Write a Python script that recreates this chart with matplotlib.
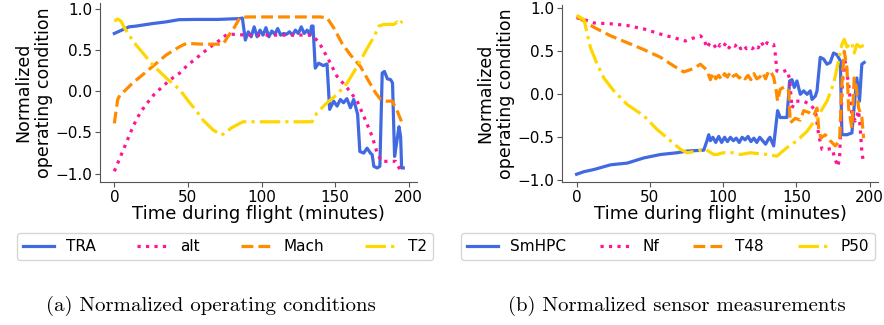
import matplotlib
matplotlib.use('Agg')
import matplotlib.pyplot as plt

# (a) operating conditions
tra_t = [0, 5, 10, 15, 26, 35, 44, 55, 70, 85, 87, 89, 91, 93, 95, 97, 99, 101, 103, 105,
         107, 109, 111, 113, 115, 117, 119, 121, 123, 125, 127, 129, 131, 133, 134, 135,
         136.5, 138.8, 142, 144.5, 146.3, 149, 151.3, 153.6, 155.7, 158, 160.4, 162.6,
         165.3, 166.8, 169.4, 171.7, 174, 175.2, 176.3, 178.6, 180.4, 182, 183.5, 185.5,
         187.7, 189, 190.4, 192, 193.4, 194.5, 195.2, 196.3]
tra = [0.70, 0.74, 0.78, 0.79, 0.82, 0.84, 0.867, 0.87, 0.87, 0.88, 0.887, 0.62, 0.72, 0.66,
       0.78, 0.66, 0.74, 0.68, 0.77, 0.66, 0.73, 0.69, 0.76, 0.68, 0.70, 0.69, 0.72, 0.68,
       0.74, 0.70, 0.78, 0.70, 0.74, 0.68, 0.79, 0.79, 0.28, 0.34, 0.31, 0.33, -0.22, -0.12,
       -0.18, -0.10, -0.14, -0.09, -0.20, -0.10, -0.28, -0.73, -0.75, -0.69, -0.75, -0.77,
       -0.91, -0.93, -0.91, 0.22, 0.24, 0.15, 0.14, 0.10, -0.79, -0.60, -0.43, -0.55, -0.93,
       -0.93]

alt_t = [0, 4, 8, 11.5, 14.8, 18, 21.6, 27, 33, 38, 44.4, 50, 55.8, 59, 62.6, 67, 71.7, 76.2,
         80, 90, 100, 110, 120, 130, 134, 138.8, 145.6, 151.3, 158.2, 165, 170.6, 175.2,
         178.6, 181.6, 186, 191.1, 195]
alt = [-0.97, -0.80, -0.63, -0.48, -0.35, -0.25, -0.16, -0.04, 0.06, 0.14, 0.22, 0.32, 0.40,
       0.45, 0.50, 0.56, 0.62, 0.685, 0.69, 0.68, 0.68, 0.68, 0.68, 0.68, 0.68, 0.60, 0.38,
       0.18, 0.04, -0.12, -0.35, -0.55, -0.75, -0.85, -0.85, -0.85, -0.98]

mach_t = [0, 2.3, 4, 6.8, 12.5, 19.3, 26, 35.3, 44.4, 49, 60, 70, 74, 77, 80.8, 85.3, 90, 100,
          110, 120, 130, 140, 144.5, 149, 154.7, 160.4, 167.2, 172.9, 177.5, 180.9, 185,
          188.8, 192.2, 195.6]
mach = [-0.39, -0.10, -0.04, 0.0, 0.10, 0.20, 0.30, 0.44, 0.54, 0.58, 0.57, 0.57, 0.57, 0.66,
        0.75, 0.89, 0.90, 0.90, 0.90, 0.90, 0.90, 0.90, 0.89, 0.77, 0.58, 0.44, 0.30, 0.12,
        -0.02, -0.10, -0.12, -0.12, -0.24, -0.39]

t2_t = [0, 2.3, 4.5, 6.8, 10, 14.8, 20, 26, 35.3, 44.4, 51.2, 55, 60.3, 67.1, 72.8, 76.2, 79,
        83, 87.6, 100, 110, 120, 130, 134.3, 137.7, 144.5, 151.3, 158.2, 165, 171.8, 176.4,
        179.8, 183.2, 187, 190, 192.2, 193.5, 195.6]
t2 = [0.85, 0.875, 0.85, 0.77, 0.68, 0.56, 0.45, 0.32, 0.16, 0.02, -0.14, -0.22, -0.35, -0.47,
      -0.53, -0.50, -0.45, -0.41, -0.37, -0.37, -0.37, -0.37, -0.37, -0.37, -0.26, -0.14,
      -0.04, 0.10, 0.30, 0.52, 0.66, 0.79, 0.81, 0.81, 0.81, 0.84, 0.81, 0.85]

# (b) sensor measurements
smhpc_t = [0, 5, 11.8, 17, 23.2, 34.6, 45.9, 57.3, 68.6, 75.5, 86.8, 89, 90.2, 91.3, 93, 95,
           97, 99, 101, 103, 105, 107, 109, 111, 113, 115, 117, 119, 121, 123, 125, 127, 129,
           131, 132, 134.5, 137.2, 139, 143.6, 145.4, 147, 148.6, 150.4, 152.7, 155, 157.3,
           159.5, 160.7, 163, 164.1, 166.3, 168.6, 170.9, 173.1, 175.4, 177.7, 180, 181.1,
           184.5, 187.9, 190.2, 191.3, 193.1, 194.7, 196.3]
smhpc = [-0.93, -0.90, -0.875, -0.85, -0.82, -0.80, -0.74, -0.70, -0.68, -0.66, -0.65, -0.54,
         -0.47, -0.54, -0.50, -0.56, -0.49, -0.56, -0.50, -0.55, -0.50, -0.54, -0.51, -0.56,
         -0.50, -0.53, -0.49, -0.55, -0.51, -0.56, -0.50, -0.54, -0.58, -0.52, -0.50, -0.60,
         -0.19, -0.27, -0.27, 0.155, 0.17, 0.08, 0.155, 0.0, 0.04, 0.0, 0.04, -0.06, -0.02,
         0.04, 0.43, 0.41, 0.35, 0.37, 0.48, 0.46, 0.39, -0.47, -0.47, -0.45, 0.0, 0.19,
         -0.08, 0.35, 0.37]

nf_t = [0, 5, 11.8, 23.2, 34.6, 45.9, 57.3, 66, 74.3, 79, 84.5, 87, 89, 91, 93.5, 96, 98, 100,
        102, 104, 106, 108, 110, 112, 114, 116, 118, 120, 122, 124, 126, 128, 130, 132, 134.5,
        135.6, 136.7, 140.2, 143.6, 145.4, 147, 149.3, 152.7, 155, 159.5, 163, 165.2, 167.5,
        170.9, 174.3, 176.6, 178.2, 179.5, 181.1, 182.2, 183.4, 185.7, 187.9, 190.2, 192.5,
        193.6, 194.7, 195.9]
nf = [0.89, 0.87, 0.83, 0.82, 0.80, 0.76, 0.70, 0.66, 0.62, 0.65, 0.68, 0.64, 0.54, 0.60,
      0.58, 0.52, 0.58, 0.55, 0.60, 0.54, 0.58, 0.56, 0.59, 0.53, 0.57, 0.53, 0.55, 0.53,
      0.57, 0.54, 0.61, 0.55, 0.60, 0.58, 0.58, 0.47, 0.27, 0.26, 0.28, 0.18, -0.16, -0.08,
      -0.08, -0.08, -0.12, -0.19, -0.47, -0.64, -0.64, -0.63, -0.76, -0.84, -0.75, 0.0, 0.31,
      0.38, 0.11, -0.23, -0.31, -0.19, -0.39, -0.67, -0.80]

t48_t = [0, 5, 11.8, 23.2, 34.6, 45.9, 57.3, 66.3, 73.1, 80, 84.5, 89, 91.3, 93, 95, 97, 99,
         101, 103, 105, 107, 109, 111, 113, 115, 117, 119, 121, 123, 125, 127, 129, 131,
         132.2, 134.5, 136.3, 137.2, 139, 142.5, 144.8, 145.4, 145.9, 149.3, 152.7, 155,
         158.4, 161.8, 164.1, 165.2, 166.8, 169.7, 173.1, 176.6, 179.5, 181.1, 182.7, 184.5,
         185.7, 187.9, 189.5, 190.9, 192.5, 194.7, 195.9]
t48 = [0.91, 0.85, 0.78, 0.68, 0.60, 0.52, 0.43, 0.33, 0.26, 0.30, 0.35, 0.28, 0.17, 0.25,
       0.18, 0.22, 0.17, 0.24, 0.20, 0.26, 0.21, 0.23, 0.19, 0.22, 0.18, 0.22, 0.17, 0.24,
       0.18, 0.20, 0.25, 0.18, 0.27, 0.27, 0.20, 0.04, -0.08, 0.06, 0.09, 0.04, -0.19, -0.33,
       -0.28, -0.30, -0.19, -0.21, -0.25, -0.16, -0.39, -0.51, -0.47, -0.54, -0.60, -0.54,
       0.12, 0.50, 0.31, -0.16, -0.39, 0.19, 0.08, -0.16, -0.27, -0.51]

p50_t = [0, 5, 7.3, 9.5, 14.1, 18.6, 25.4, 34.6, 45.9, 55, 64.1, 70.9, 75.5, 82.3, 88, 93.6,
         95.9, 100, 107.2, 112, 118.6, 124, 130, 136.7, 143.6, 150.4, 157.3, 164.1, 170.9,
         175.4, 178.8, 181.1, 182.7, 184.5, 187.9, 189.5, 191.3, 193.6, 196]
p50 = [0.92, 0.87, 0.70, 0.54, 0.35, 0.19, 0.04, -0.12, -0.25, -0.41, -0.54, -0.64, -0.68,
       -0.66, -0.64, -0.70, -0.70, -0.68, -0.68, -0.70, -0.68, -0.69, -0.70, -0.72, -0.62,
       -0.54, -0.43, -0.27, -0.08, 0.12, 0.39, 0.58, 0.64, 0.55, 0.60, 0.48, 0.58, 0.55, 0.57]

labels_a = ['TRA', 'alt', 'Mach', 'T2']
labels_b = ['SmHPC', 'Nf', 'T48', 'P50']
colors = ['#4169e1', '#ff1493', '#ff8c00', '#ffd700']
styles = ['-', ':', '--', '-.']

fig = plt.figure(figsize=(8.84, 3.25), dpi=100)
ax1 = fig.add_axes([0.113, 0.44, 0.359, 0.551])
ax2 = fig.add_axes([0.636, 0.44, 0.357, 0.545])

series_a = [(tra_t, tra), (alt_t, alt), (mach_t, mach), (t2_t, t2)]
series_b = [(smhpc_t, smhpc), (nf_t, nf), (t48_t, t48), (p50_t, p50)]

for ax, series, labels in [(ax1, series_a, labels_a), (ax2, series_b, labels_b)]:
    for (t, v), lab, c, ls in zip(series, labels, colors, styles):
        ax.plot(t, v, color=c, linestyle=ls, linewidth=2.3, label=lab)
    ax.spines['top'].set_visible(False)
    ax.spines['right'].set_visible(False)
    ax.spines['left'].set_color('#555555')
    ax.spines['bottom'].set_color('#555555')
    ax.tick_params(labelsize=11, color='#555555', pad=2)
    ax.set_xlabel('Time during flight (minutes)', fontsize=13, labelpad=0)
    ax.set_ylabel('Normalized\noperating condition', fontsize=12.5, labelpad=2)
    ax.set_xticks([0, 50, 100, 150, 200])
    ax.set_yticks([-1.0, -0.5, 0.0, 0.5, 1.0])

ax1.set_xlim(-9.8, 205.8)
ax1.set_ylim(-1.1, 1.07)
ax2.set_xlim(-9.8, 205.6)
ax2.set_ylim(-1.02, 1.04)

ax1.legend(loc='upper left', bbox_to_anchor=(17 / 884, 1 - 233 / 325),
           bbox_transform=fig.transFigure, borderaxespad=0, ncol=4,
           columnspacing=2.7, fontsize=11)
ax2.legend(loc='upper left', bbox_to_anchor=(461 / 884, 1 - 233 / 325),
           bbox_transform=fig.transFigure, borderaxespad=0, ncol=4,
           columnspacing=2.2, fontsize=11)

fig.text(0.239, 1 - 306 / 325, '(a) Normalized operating conditions', family='cmr10',
         fontsize=15, ha='center', va='center')
fig.text(0.766, 1 - 306 / 325, '(b) Normalized sensor measurements', family='cmr10',
         fontsize=15, ha='center', va='center')

fig.savefig('out.png', dpi=100)
